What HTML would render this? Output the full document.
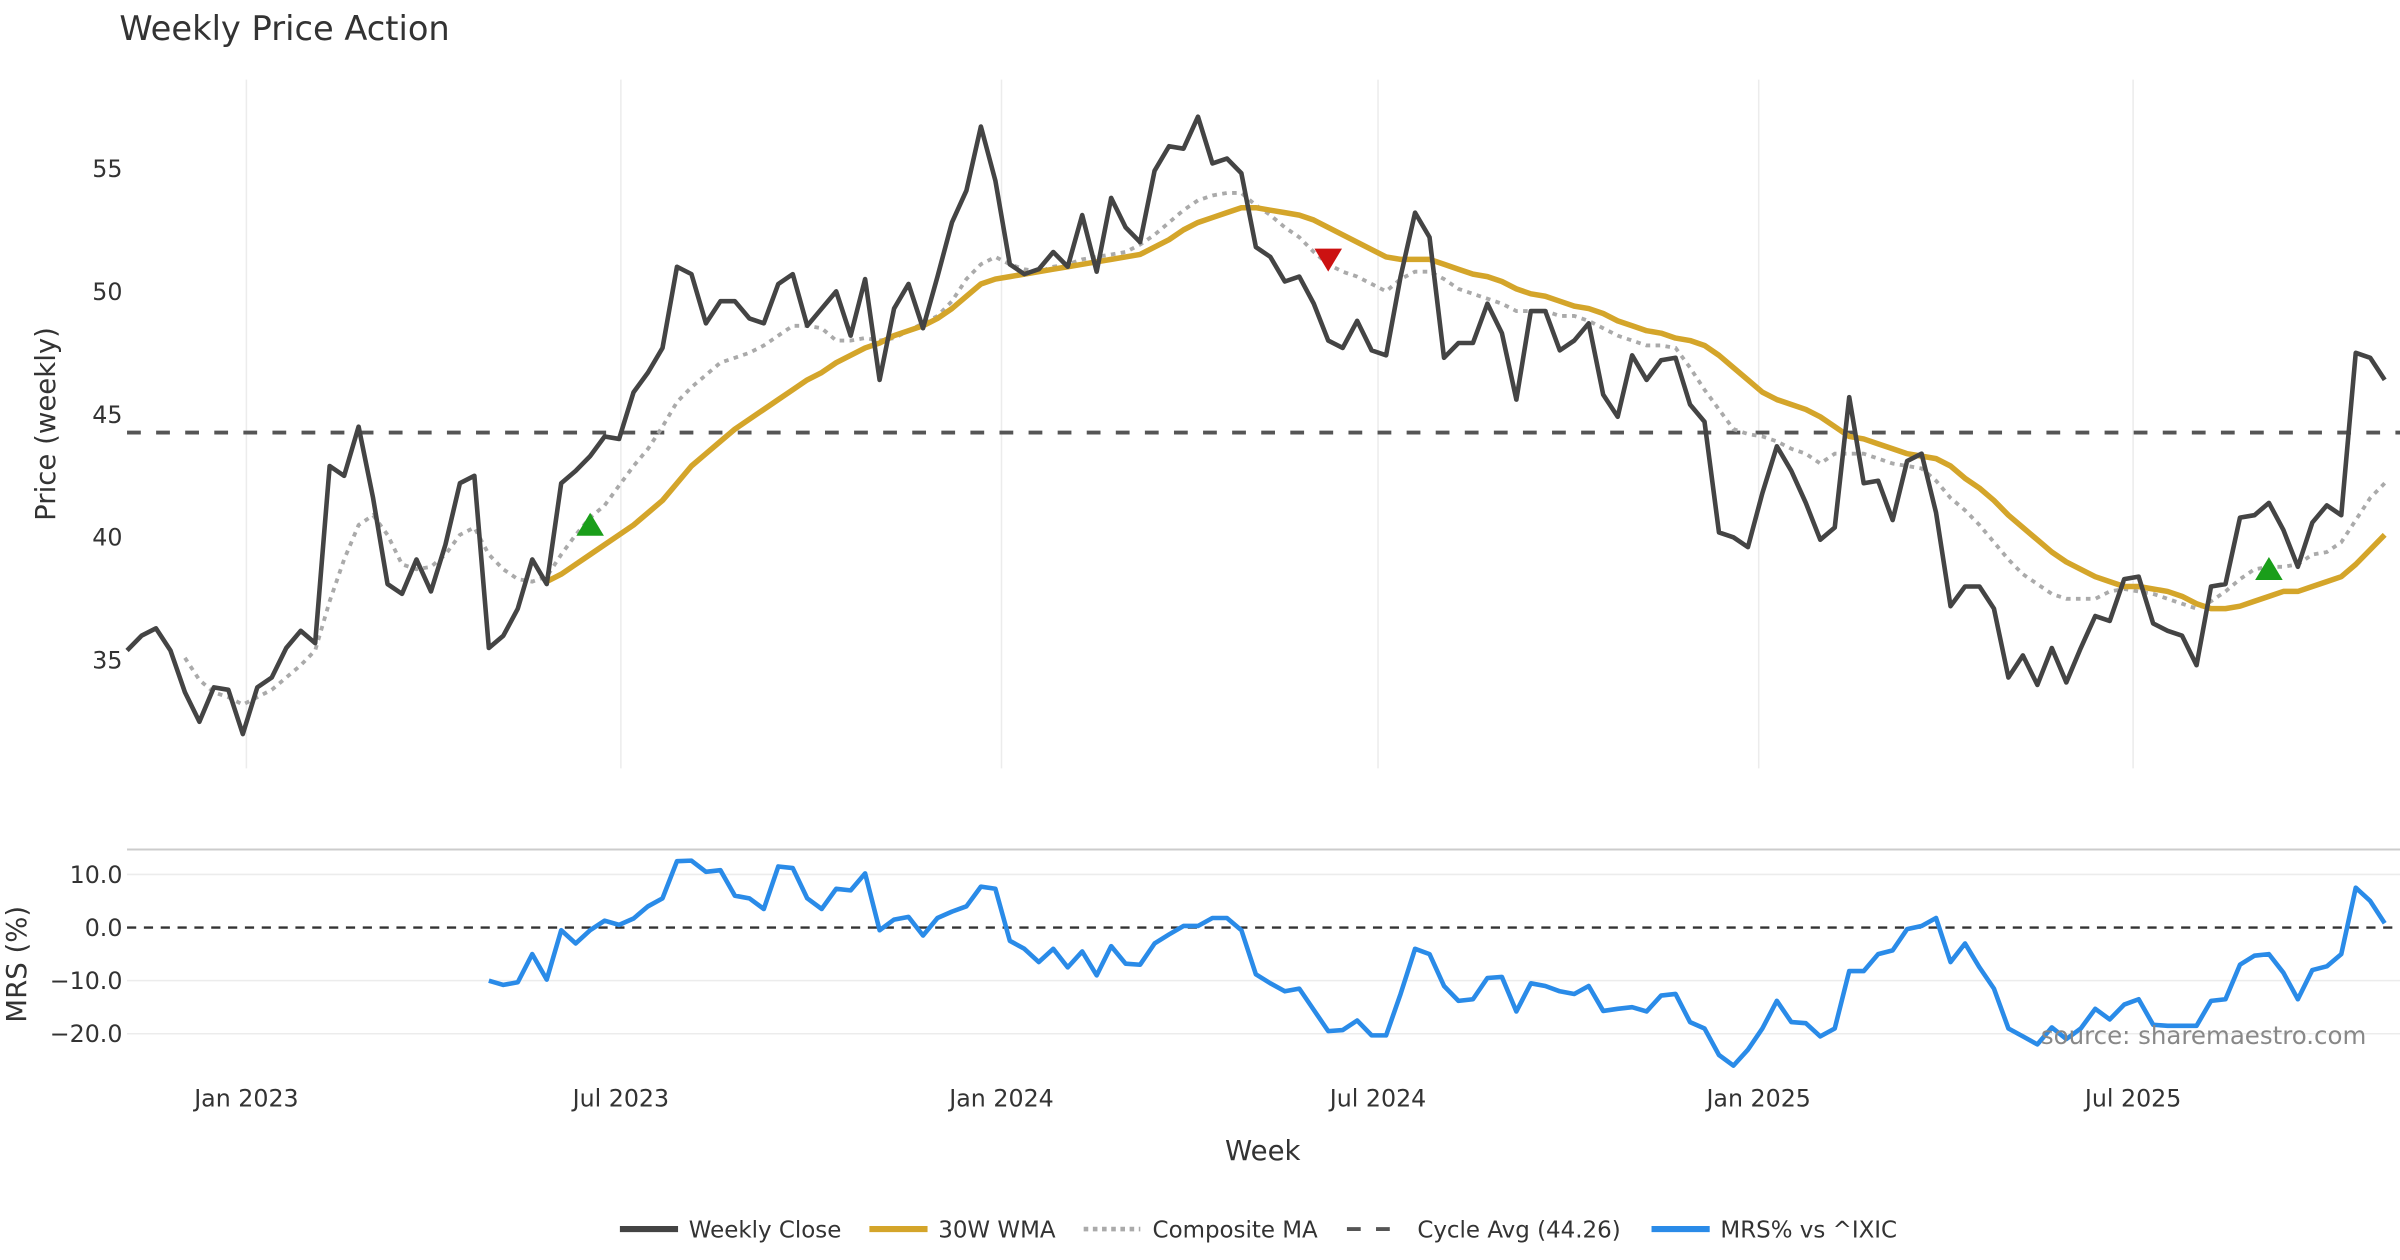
<!DOCTYPE html>
<html><head><meta charset="utf-8"><title>Weekly Price Action</title>
<style>html,body{margin:0;padding:0;background:#fff;}svg{display:block;font-family:"DejaVu Sans","Liberation Sans",sans-serif;}</style>
</head><body>
<svg id="chart" width="2400" height="1260" viewBox="0 0 1568 823.2" xmlns="http://www.w3.org/2000/svg">
<rect width="1568" height="823.2" fill="#fff"/>
<text x="78" y="26" font-size="22" fill="#333">Weekly Price Action</text>
<g id="grid"></g>
<g id="main"></g>
<g id="mrsg"></g>
<g id="axes"></g>
<text transform="translate(36,277) rotate(-90)" text-anchor="middle" font-size="18" fill="#333">Price (weekly)</text>
<text transform="translate(17,630) rotate(-90)" text-anchor="middle" font-size="18" fill="#333">MRS (%)</text>
<text x="825" y="758" text-anchor="middle" font-size="18" fill="#333">Week</text>
<text x="1546" y="682" text-anchor="end" font-size="16" fill="#888">source: sharemaestro.com</text>
<g font-size="15" fill="#333">
<g><line x1="405" y1="803" x2="443" y2="803" stroke="#444" stroke-width="4"/><text x="450" y="808.5">Weekly Close</text></g>
<g><line x1="568" y1="803" x2="606" y2="803" stroke="#d4a52a" stroke-width="4"/><text x="613" y="808.5">30W WMA</text></g>
<g><line x1="708" y1="803" x2="745" y2="803" stroke="#aaa" stroke-width="3" stroke-dasharray="3,3"/><text x="753" y="808.5">Composite MA</text></g>
<g><line x1="880" y1="803" x2="917" y2="803" stroke="#555" stroke-width="2.5" stroke-dasharray="9,10"/><text x="926" y="808.5">Cycle Avg (44.26)</text></g>
<g><line x1="1079" y1="803" x2="1117" y2="803" stroke="#2a8be8" stroke-width="4"/><text x="1124" y="808.5">MRS% vs ^IXIC</text></g>
</g>
</svg>
<script>
const closeVals=[35.4,36.0,36.3,35.4,33.7,32.5,33.9,33.8,32.0,33.9,
34.3,35.5,36.2,35.7,42.9,42.5,44.5,41.6,38.1,37.7,
39.1,37.8,39.7,42.2,42.5,35.5,36.0,37.1,39.1,38.1,
42.2,42.7,43.3,44.1,44.0,45.9,46.7,47.7,51.0,50.7,
48.7,49.6,49.6,48.9,48.7,50.3,50.7,48.6,49.3,50.0,
48.2,50.5,46.4,49.3,50.3,48.5,50.6,52.8,54.1,56.7,
54.5,51.1,50.7,50.9,51.6,51.0,53.1,50.8,53.8,52.6,
52.0,54.9,55.9,55.8,57.1,55.2,55.4,54.8,51.8,51.4,
50.4,50.6,49.5,48.0,47.7,48.8,47.6,47.4,50.6,53.2,
52.2,47.3,47.9,47.9,49.5,48.3,45.6,49.2,49.2,47.6,
48.0,48.7,45.8,44.9,47.4,46.4,47.2,47.3,45.4,44.7,
40.2,40.0,39.6,41.8,43.7,42.7,41.4,39.9,40.4,45.7,
42.2,42.3,40.7,43.1,43.4,41.0,37.2,38.0,38.0,37.1,
34.3,35.2,34.0,35.5,34.1,35.5,36.8,36.6,38.3,38.4,
36.5,36.2,36.0,34.8,38.0,38.1,40.8,40.9,41.4,40.3,
38.8,40.6,41.3,40.9,47.5,47.3,46.4];
const wmaStart=29;
const wmaVals=[38.2,38.5,38.9,39.3,39.7,40.1,40.5,41.0,41.5,42.2,42.9,43.4,43.9,44.4,44.8,45.2,45.6,46.0,46.4,46.7,47.1,47.4,47.7,47.9,48.2,48.4,48.6,48.9,49.3,49.8,50.3,50.5,50.6,50.7,50.8,50.9,51.0,51.1,51.2,51.3,51.4,51.5,51.8,52.1,52.5,52.8,53.0,53.2,53.4,53.4,53.3,53.2,53.1,52.9,52.6,52.3,52.0,51.7,51.4,51.3,51.3,51.3,51.1,50.9,50.7,50.6,50.4,50.1,49.9,49.8,49.6,49.4,49.3,49.1,48.8,48.6,48.4,48.3,48.1,48.0,47.8,47.4,46.9,46.4,45.9,45.6,45.4,45.2,44.9,44.5,44.1,44.0,43.8,43.6,43.4,43.3,43.2,42.9,42.4,42.0,41.5,40.9,40.4,39.9,39.4,39.0,38.7,38.4,38.2,38.0,38.0,37.9,37.8,37.6,37.3,37.1,37.1,37.2,37.4,37.6,37.8,37.8,38.0,38.2,38.4,38.9,39.5,40.1];
const compStart=4;
const compVals=[35.1,34.2,33.7,33.5,33.2,33.5,33.8,34.3,34.8,35.4,37.4,39.1,40.5,40.9,40.1,38.9,38.7,38.8,39.3,40.1,40.4,39.3,38.7,38.3,38.2,38.4,39.3,40.1,40.8,41.3,42.1,42.9,43.6,44.5,45.5,46.1,46.6,47.1,47.3,47.5,47.8,48.2,48.6,48.6,48.5,48.0,48.0,48.1,48.0,48.1,48.4,48.7,49.0,49.6,50.5,51.1,51.4,51.1,50.9,50.8,51.0,51.1,51.3,51.4,51.5,51.6,51.9,52.3,52.8,53.3,53.7,53.9,54.0,54.0,53.5,53.1,52.6,52.2,51.6,51.1,50.8,50.6,50.3,50.0,50.5,50.8,50.8,50.5,50.1,49.9,49.7,49.5,49.2,49.2,49.2,49.0,49.0,48.8,48.5,48.2,48.0,47.8,47.8,47.7,46.9,46.0,45.2,44.4,44.2,44.1,43.9,43.6,43.4,43.0,43.4,43.4,43.4,43.2,43.0,42.9,42.8,42.3,41.6,41.1,40.5,39.8,39.1,38.5,38.1,37.7,37.5,37.5,37.5,37.8,37.9,37.8,37.7,37.5,37.3,37.1,37.4,37.8,38.3,38.7,38.8,38.8,38.9,39.3,39.4,39.8,40.7,41.6,42.2];
const mrsStart=25;
const mrsVals=[-10.0,-10.8,-10.3,-5.0,-9.8,-0.5,-3.0,-0.5,1.3,0.5,
1.7,4.0,5.5,12.5,12.6,10.5,10.8,6.0,5.5,3.5,
11.5,11.2,5.5,3.5,7.3,7.0,10.2,-0.5,1.5,2.0,
-1.5,1.8,3.0,4.0,7.7,7.3,-2.5,-4.0,-6.5,-4.0,
-7.5,-4.5,-9.0,-3.5,-6.8,-7.0,-3.0,-1.3,0.3,0.3,
1.8,1.8,-0.5,-8.8,-10.5,-12.0,-11.5,-15.5,-19.5,-19.3,
-17.5,-20.3,-20.3,-12.5,-4.0,-5.0,-11.0,-13.8,-13.5,-9.5,
-9.3,-15.8,-10.5,-11.0,-12.0,-12.5,-11.0,-15.7,-15.3,-15.0,
-15.8,-12.8,-12.5,-17.8,-19.0,-24.0,-26.0,-23.0,-19.0,-13.8,
-17.8,-18.0,-20.5,-19.0,-8.2,-8.2,-5.0,-4.3,-0.3,0.3,
1.8,-6.5,-3.0,-7.5,-11.5,-19.0,-20.5,-22.0,-18.8,-21.0,
-19.0,-15.3,-17.3,-14.5,-13.5,-18.3,-18.5,-18.5,-18.5,-13.8,
-13.5,-7.0,-5.3,-5.0,-8.5,-13.5,-8.0,-7.3,-5.0,7.5,
5.0,0.8];
const buyIdx=[32,148];
const buyVals=[40.5,38.7];
const sellIdx=[83];
const sellVals=[51.3];
const cycleAvg=44.26;
const priceTicks=[35,40,45,50,55];
const mrsTicks=[10,0,-10,-20];
const mrsTickLabels=["10.0","0.0","\u221210.0","\u221220.0"];
const dateTicks=["Jan 2023","Jul 2023","Jan 2024","Jul 2024","Jan 2025","Jul 2025"];
const dateTickDays=[0,181,365,547,731,912];

const NS="http://www.w3.org/2000/svg";
const X0=83,X1=1558,N=closeVals.length;
const xi=i=>X0+i*(X1-X0)/(N-1);
const xd=d=>161+d*(988/731);
const yp=v=>110+(55-v)*16.07;
const ym=v=>606-v*3.47;
function mk(tag,attrs,parent){const e=document.createElementNS(NS,tag);for(const k in attrs)e.setAttribute(k,attrs[k]);parent.appendChild(e);return e;}
const gridG=document.getElementById('grid'),mainG=document.getElementById('main'),mrsG=document.getElementById('mrsg'),axesG=document.getElementById('axes');
dateTickDays.forEach((d,k)=>{
  const l=mk('line',{x1:xd(d),x2:xd(d),y1:52,y2:502,stroke:'#ececec','stroke-width':1},gridG);
  
  
  const t=mk('text',{x:xd(d),y:723,'text-anchor':'middle','font-size':15.5,fill:'#333'},axesG);
  t.textContent=dateTicks[k];
  
  
});
priceTicks.forEach(v=>{
  const t=mk('text',{x:80,y:yp(v)+5.5,'text-anchor':'end','font-size':15.5,fill:'#333'},axesG);
  t.textContent=String(v);
  
  
});
const panelTopLine=mk('line',{x1:83,x2:1568,y1:555,y2:555,stroke:'#ccc','stroke-width':1.3},gridG);


mrsTicks.forEach((v,k)=>{
  if(v!==0){const l=mk('line',{x1:83,x2:1568,y1:ym(v),y2:ym(v),stroke:'#ececec','stroke-width':1},gridG);
  
  }
  const t=mk('text',{x:80,y:ym(v)+5.5,'text-anchor':'end','font-size':15.5,fill:'#333'},axesG);
  t.textContent=mrsTickLabels[k];
  
  
});
const zl=mk('line',{x1:83,x2:1568,y1:ym(0),y2:ym(0),stroke:'#333','stroke-width':1.5,'stroke-dasharray':'6,5'},mrsG);


const cl=mk('line',{x1:83,x2:1568,y1:yp(cycleAvg),y2:yp(cycleAvg),stroke:'#555','stroke-width':2.5,'stroke-dasharray':'9,10'},mainG);


function path(vals,start,yf){return vals.map((v,j)=>(j?'L':'M')+xi(start+j).toFixed(2)+' '+yf(v).toFixed(2)).join(' ');}
const pc=mk('path',{d:path(compVals,compStart,yp),fill:'none',stroke:'#aaa','stroke-width':2.5,'stroke-dasharray':'3,3.5'},mainG);


const pw=mk('path',{d:path(wmaVals,wmaStart,yp),fill:'none',stroke:'#d4a52a','stroke-width':3.6,'stroke-linejoin':'round'},mainG);


const pcl=mk('path',{d:path(closeVals,0,yp),fill:'none',stroke:'#444','stroke-width':3,'stroke-linejoin':'round'},mainG);


buyIdx.forEach((i,k)=>{const x=xi(i),y=yp(buyVals[k]);
  const t=mk('path',{d:`M${x-9} ${y+7}L${x+9} ${y+7}L${x} ${y-8}Z`,fill:'#1a9e1a'},mainG);
  
  });
sellIdx.forEach((i,k)=>{const x=xi(i),y=yp(sellVals[k]);
  const t=mk('path',{d:`M${x-9} ${y-7}L${x+9} ${y-7}L${x} ${y+8}Z`,fill:'#cc1111'},mainG);
  
  });
const pm=mk('path',{d:path(mrsVals,mrsStart,ym),fill:'none',stroke:'#2a8be8','stroke-width':3,'stroke-linejoin':'round'},mrsG);


</script>
</body></html>
